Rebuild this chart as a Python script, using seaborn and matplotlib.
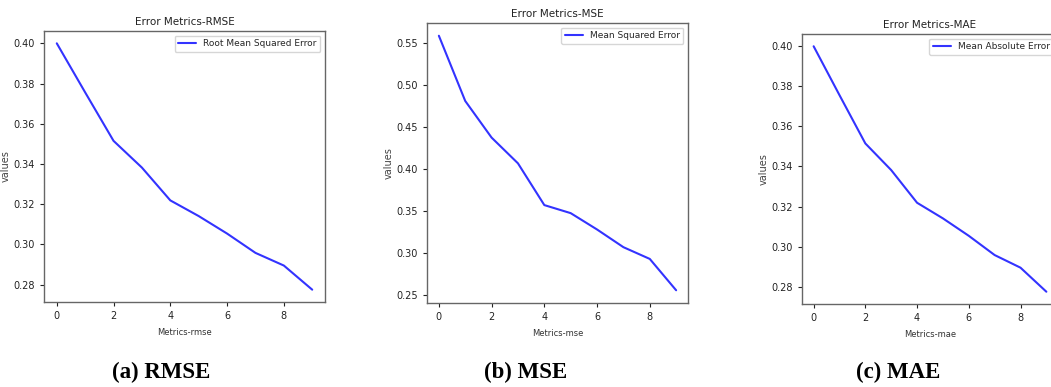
import numpy as np
import pandas as pd
import matplotlib
matplotlib.use("Agg")
import matplotlib.pyplot as plt
import seaborn as sns

# values
epochs = list(range(10))
rmse_vals = [0.400, 0.3756, 0.3515, 0.3382, 0.3219, 0.3141, 0.3054, 0.2958, 0.2895, 0.2775]
mse_vals = [0.5588, 0.481, 0.4373, 0.4066, 0.3568, 0.3472, 0.3277, 0.3066, 0.2926, 0.2552]
mae_vals = [0.400, 0.3756, 0.3515, 0.3382, 0.3219, 0.3141, 0.3054, 0.2958, 0.2895, 0.2775]

titles = ["Error Metrics-RMSE", "Error Metrics-MSE", "Error Metrics-MAE"]
legends = ["Root Mean Squared Error", "Mean Squared Error", "Mean Absolute Error"]
xlabels = ["Metrics-rmse", "Metrics-mse", "Metrics-mae"]
captions = ["(a) RMSE", "(b) MSE", "(c) MAE"]

sns.set_style("ticks")
plt.rcParams['font.family'] = ['DejaVu Sans Condensed', 'Liberation Sans Narrow', 'DejaVu Sans']

fig = plt.figure(figsize=(10.51, 3.87), dpi=100)

# axes boxes in pixels: left, right, top, bottom
boxes = [(44, 325, 31, 302), (427, 688, 23, 303), (802, 1058, 34, 304)]
series = [rmse_vals, mse_vals, mae_vals]
cap_x = [161, 526, 898]

W, H = 1051, 387
for i in range(3):
    l, r, t, b = boxes[i]
    ax = fig.add_axes([l / W, (H - b) / H, (r - l) / W, (b - t) / H])
    df = pd.DataFrame({"x": epochs, "y": series[i]})
    sns.lineplot(data=df, x="x", y="y", ax=ax, color="blue", alpha=0.8,
                 linewidth=1.5, label=legends[i])
    ax.set_title(titles[i], fontsize=7.5, pad=4, color="#222222")
    ax.set_xlabel(xlabels[i], fontsize=6, labelpad=5, color="#333333")
    ax.set_ylabel("values", fontsize=7, color="#444444", labelpad=2)
    ax.set_xticks([0, 2, 4, 6, 8])
    ax.tick_params(labelsize=7, length=3, width=0.8, colors="#222222")
    for s in ax.spines.values():
        s.set_color("#666666")
        s.set_linewidth(1)
    ax.legend(loc="upper right", fontsize=6.5, frameon=True, handlelength=2)
    fig.text(cap_x[i] / W, 1 - 372 / H, captions[i], ha="center", va="center",
             fontsize=16.5, fontweight="bold", family="Liberation Serif",
             color="black")

fig.savefig("out.png", dpi=100)
